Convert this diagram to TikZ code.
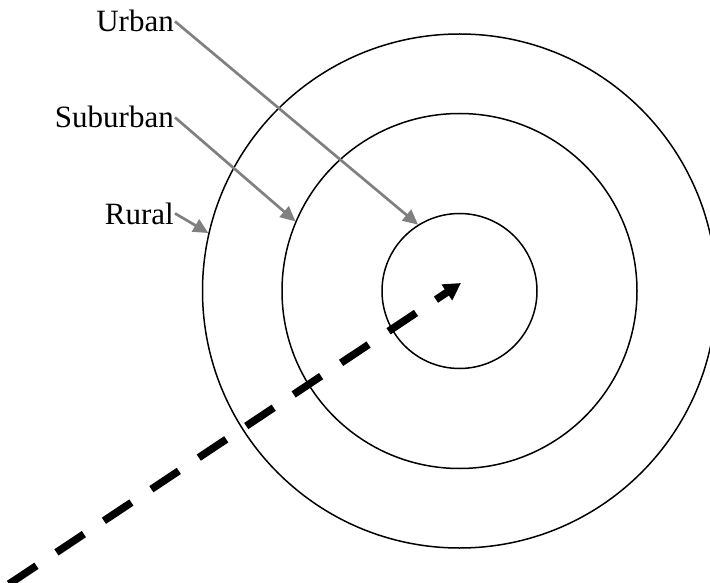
\documentclass[tikz,border=0pt]{standalone}
\usepackage{fontspec}
\setmainfont{Liberation Serif}
\usepackage{tikz}
\usetikzlibrary{arrows.meta}

\tikzset{
ring/.style={circle,draw,line width=1.5pt,inner sep=0pt},
zonelabel/.style={anchor=base east,inner sep=1pt,font=\fontsize{31}{37}\selectfont},
pointer/.style={draw=gray,line width=2.7pt,-{Triangle[length=15pt,width=14pt]}},
}

\begin{document}
\begin{tikzpicture}[x=1pt,y=-1pt]
\useasboundingbox (0,0) rectangle (710,583);
\coordinate (centre) at (459.5,291);
\node[ring,minimum size=155pt](urbanring) at (centre){};
\node[ring,minimum size=355pt](suburbanring) at (centre){};
\node[ring,minimum size=514pt](ruralring) at (centre){};
\node[zonelabel](urbanlabel) at (175,32){Urban};
\node[zonelabel](suburbanlabel) at (175,128){Suburban};
\node[zonelabel](rurallabel) at (175,224){Rural};
\draw[pointer](urbanlabel.east)--(urbanring.122);
\draw[pointer](suburbanlabel.east)--(suburbanring.157);
\draw[pointer](rurallabel.east)--(ruralring.167.5);
%the way out from the centre
\coordinate (outside) at (9,584);
\draw[line width=7.5pt,dash pattern=on 33pt off 24pt,-{Triangle[length=17pt,width=18pt]}](outside)--(461,283);
\end{tikzpicture}
\end{document}
